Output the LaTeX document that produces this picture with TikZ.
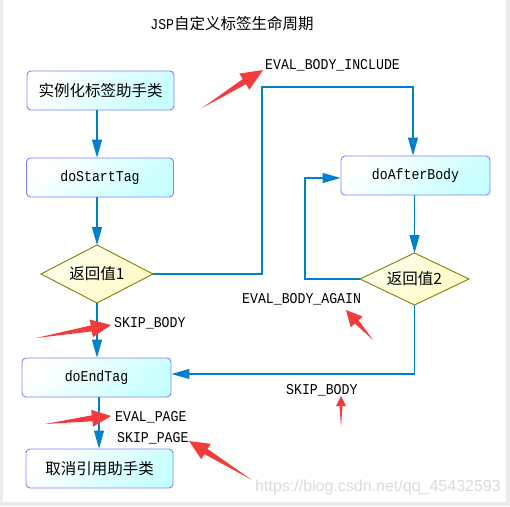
\documentclass[tikz,border=0pt]{standalone}
\usepackage{fontspec}
\setmainfont{Liberation Serif}
\newfontfamily\cjk{Noto Sans CJK SC}
\newfontfamily\monof[FakeStretch=0.88]{Liberation Mono}
\newfontfamily\wmfont{Liberation Sans}
\usetikzlibrary{shapes.geometric,arrows.meta,calc}
\definecolor{boxc}{RGB}{200,255,255}
\definecolor{boxline}{RGB}{128,128,255}
\definecolor{dialine}{RGB}{128,128,0}
\definecolor{diatop}{RGB}{255,255,238}
\definecolor{diabot}{RGB}{255,250,195}
\definecolor{conn}{RGB}{0,128,200}
\definecolor{redann}{RGB}{242,60,60}
\newcommand\redarrow[5]{%
  \fill[redann] (#1)
    -- ($(#2)!#3!(#1)!#5!90:(#1)$)
    -- ($(#2)!#3!(#1)!#4!90:(#1)$)
    -- (#2)
    -- ($(#2)!#3!(#1)!#4!-90:(#1)$)
    -- ($(#2)!#3!(#1)!#5!-90:(#1)$)
    -- cycle;}
\begin{document}
\begin{tikzpicture}[x=1pt,y=-1pt,
  stepbox/.style={rectangle,rounded corners=4pt,draw=boxline,line width=0.9pt,
    top color=white,bottom color=boxc,shading angle=45,
    minimum width=147pt,minimum height=39pt,inner sep=0pt},
  decision/.style={diamond,aspect=2.2,draw=dialine,line width=0.9pt,
    top color=diatop,bottom color=diabot,shading angle=45,inner sep=0pt,outer sep=0pt},
  arr/.style={draw=conn,line width=1.1pt,-{Triangle[length=18pt,width=10pt]}},
  monotext/.style={font=\monof\fontsize{15}{17}\selectfont},
  cjktext/.style={font=\cjk\fontsize{15.5}{18}\selectfont},
  lbl/.style={monotext,anchor=base west,inner sep=0pt},
]
\useasboundingbox (0,0) rectangle (510,506);
\fill[white] (0,0) rectangle (510,506);
\fill[gray!15] (0,0) rectangle (3,506);
\fill[gray!15] (506,0) rectangle (510,506);
\fill[gray!15] (0,502) rectangle (510,506);

% title
\node[inner sep=0pt] (title) at (232,24) {{\monof\fontsize{15}{17}\selectfont JSP}{\cjk\fontsize{15.5}{18}\selectfont 自定义标签生命周期}};

% columns
\coordinate (colA) at (97,0);
\coordinate (colB) at (413,0);
\coordinate (colC) at (99,0);

% nodes
\node[stepbox,cjktext] (n1) at (100.5,90.5) {实例化标签助手类};
\node[stepbox,monotext] (n2) at (100,177.5) {doStartTag};
\node[decision,cjktext,minimum width=112pt,minimum height=58pt] (d1) at (97,274) {返回值1};
\node[stepbox,monotext,minimum width=149pt] (n3) at (415.5,175.5) {doAfterBody};
\node[decision,cjktext,minimum width=109pt,minimum height=52pt] (d2) at (414.5,279) {返回值2};
\node[stepbox,monotext,minimum width=149pt] (n4) at (96.5,377.5) {doEndTag};
\node[stepbox,cjktext] (n5) at (99.5,468.5) {取消引用助手类};

% junctions
\coordinate (jA) at (262,87);
\coordinate (jB) at (305,178);
\coordinate (jC) at (414.5,374);

% connectors
\draw[arr] (n1.south -| colA) -- (n2.north -| colA);
\draw[arr] (n2.south -| colA) -- (d1.north);
\draw[arr] (d1.east) -| (jA) -| (n3.north -| colB);
\draw[arr] (n3.south -| d2.north) -- (d2.north);
\draw[arr] (d2.west) -| (jB) -- (jB -| n3.west);
\draw[arr] (d2.south) |- (n4.east |- jC);
\draw[arr] (d1.south) -- (d1.south |- n4.north);
\draw[arr] (n4.south -| colC) -- (n5.north -| colC);

% labels
\node[lbl] (l1) at (265,69) {EVAL\_BODY\_INCLUDE};
\node[lbl] (l2) at (114,327) {SKIP\_BODY};
\node[lbl] (l3) at (242,303) {EVAL\_BODY\_AGAIN};
\node[lbl] (l4) at (286,394) {SKIP\_BODY};
\node[lbl] (l5) at (115,421) {EVAL\_PAGE};
\node[lbl] (l6) at (117,442) {SKIP\_PAGE};

% red annotation arrows
\coordinate (ra1t) at (202,108); \coordinate (ra1h) at (263,70);
\coordinate (ra2t) at (36,338);  \coordinate (ra2h) at (111,325);
\coordinate (ra3t) at (373,340); \coordinate (ra3h) at (346,310);
\coordinate (ra4t) at (341,427); \coordinate (ra4h) at (341,396);
\coordinate (ra5t) at (45,424);  \coordinate (ra5h) at (111,416);
\coordinate (ra6t) at (252,480); \coordinate (ra6h) at (189,441);
\redarrow{ra1t}{ra1h}{22pt}{9.5pt}{3pt}
\redarrow{ra2t}{ra2h}{20pt}{9pt}{3pt}
\redarrow{ra3t}{ra3h}{16pt}{8pt}{2.5pt}
\redarrow{ra4t}{ra4h}{10pt}{5pt}{1.5pt}
\redarrow{ra5t}{ra5h}{19pt}{8.5pt}{3pt}
\redarrow{ra6t}{ra6h}{20pt}{9pt}{3pt}

% watermark
\node[font=\wmfont\fontsize{16}{18}\selectfont,text=gray!28,inner sep=0pt] (wm) at (378,487) {https://blog.csdn.net/qq\_45432593};
\end{tikzpicture}
\end{document}
